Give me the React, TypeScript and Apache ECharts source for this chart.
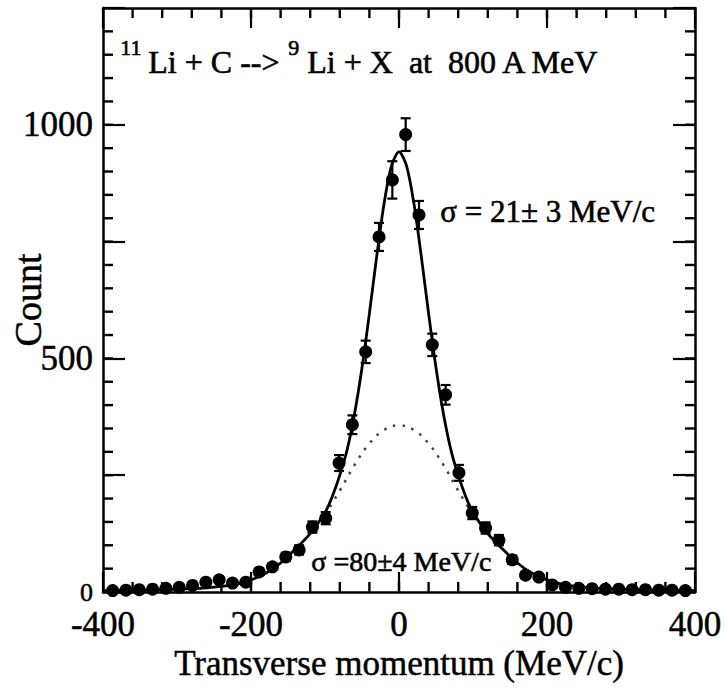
import React, { useEffect, useRef } from 'react';
import * as echarts from 'echarts';

// Bin centres (MeV/c) of the measured points
const binCenters = [
  -387, -369, -351, -333, -315, -297, -279, -261, -243, -225, -207, -189, -171, -153, -135, -117, -99, -81, -63, -45, -27, -9,
  9, 27, 45, 63, 81, 99, 117, 135, 153, 171, 189, 207, 225, 243, 261, 279, 297, 315, 333, 351, 369, 387,
];
// Counts
const counts = [
  3, 4, 5, 6, 8, 10, 14, 21, 26, 19, 21, 43, 54, 75, 90, 139, 158, 276, 358, 514, 760, 882,
  979, 807, 529, 422, 255, 169, 137, 111, 69, 36, 32, 15, 10, 8, 7, 6, 6, 5, 5, 4, 4, 3,
];
// Error-bar half lengths
const errors = [
  2, 2, 2, 3, 3, 3, 4, 5, 5, 5, 5, 7, 7, 9, 10, 12, 13, 17, 20, 24, 30, 40,
  35, 30, 24, 21, 17, 13, 12, 11, 9, 6, 6, 4, 3, 3, 3, 2, 2, 2, 2, 2, 2, 2,
];
// Solid fitted curve (total)
const fitX = [-400, -350, -300, -260, -240, -220, -200, -180, -160, -140, -120, -100, -90, -80, -70, -60, -50, -40, -30, -20, -10, 0,
  10, 20, 30, 40, 50, 60, 70, 80, 90, 100, 120, 140, 160, 180, 200, 220, 240, 260, 300, 350, 400];
const fitY = [3, 4, 6, 9, 12, 17, 26, 40, 62, 92, 125, 170, 205, 250, 305, 382, 480, 596, 720, 833, 913, 942,
  913, 833, 720, 596, 480, 382, 305, 250, 205, 170, 125, 92, 62, 40, 26, 17, 12, 9, 6, 4, 3];
// Dotted wide component (sigma = 80 MeV/c)
const wideX = [-100, -80, -60, -40, -20, 0, 20, 40, 60, 80, 100];
const wideY = [165, 217, 272, 318, 347, 357, 347, 318, 272, 217, 165];

const yLabelValues = [0, 500, 1000];
const X_MIN = -400;
const X_MAX = 400;
const Y_MIN = 0;
const Y_MAX = 1250;
const X_MINOR_STEP = 40;
const Y_MINOR_STEP = 50;

const FONT = '"Liberation Serif", "Times New Roman", serif';
const INK = '#000';

export default function App() {
  const ref = useRef<HTMLDivElement>(null);
  useEffect(() => {
    if (!ref.current) return;
    const chart = echarts.init(ref.current, null, { renderer: 'svg' });

    const frameAxisX = (show: boolean, position: 'top' | 'bottom') => ({
      type: 'value',
      position,
      min: X_MIN,
      max: X_MAX,
      interval: 200,
      axisLine: { show: true, onZero: false, lineStyle: { color: INK, width: 2.5 } },
      axisTick: { show: true, inside: true, length: 20, lineStyle: { color: INK, width: 2.2 } },
      splitLine: { show: false },
      axisLabel: {
        show,
        margin: 15,
        fontFamily: FONT,
        fontSize: 35,
        color: INK,
        textBorderColor: INK,
        textBorderWidth: 0.5,
        showMinLabel: true,
        showMaxLabel: true,
      },
      name: show ? 'Transverse momentum (MeV/c)' : '',
      nameLocation: 'middle',
      nameGap: 54,
      nameMoveOverlap: false,
      nameTextStyle: { fontFamily: FONT, fontSize: 35, color: INK, textBorderColor: INK, textBorderWidth: 0.5 },
    });

    const frameAxisY = (show: boolean, position: 'left' | 'right') => ({
      type: 'value',
      position,
      min: Y_MIN,
      max: Y_MAX,
      interval: 250,
      axisLine: { show: true, onZero: false, lineStyle: { color: INK, width: 2.5 } },
      axisTick: { show: true, inside: true, length: 22, lineStyle: { color: INK, width: 2.2 } },
      splitLine: { show: false },
      axisLabel: {
        show,
        margin: 10,
        fontFamily: FONT,
        fontSize: 35,
        color: INK,
        textBorderColor: INK,
        textBorderWidth: 0.5,
        formatter: (v: number) => {
          if (!yLabelValues.includes(v)) return '';
          return v === 0 ? '{s|0}' : String(v);
        },
        rich: { s: { fontFamily: FONT, fontSize: 26, color: INK } },
      },
      name: show ? 'Count' : '',
      nameLocation: 'middle',
      nameGap: 56,
      nameMoveOverlap: false,
      nameTextStyle: { fontFamily: FONT, fontSize: 38, color: INK, textBorderColor: INK, textBorderWidth: 0.5 },
    });

    // Minor ticks of the frame as small rectangles placed through the chart's scales
    const TL = 10;
    const TW = 2.4;
    const minorTicks: any[] = [];
    for (let v = X_MIN + X_MINOR_STEP; v < X_MAX; v += X_MINOR_STEP) {
      minorTicks.push({ value: [v, Y_MIN], symbolSize: [TW, TL], symbolOffset: [0, -TL / 2] });
      minorTicks.push({ value: [v, Y_MAX], symbolSize: [TW, TL], symbolOffset: [0, TL / 2] });
    }
    for (let v = Y_MIN + Y_MINOR_STEP; v < Y_MAX; v += Y_MINOR_STEP) {
      minorTicks.push({ value: [X_MIN, v], symbolSize: [TL, TW], symbolOffset: [TL / 2, 0] });
      minorTicks.push({ value: [X_MAX, v], symbolSize: [TL, TW], symbolOffset: [-TL / 2, 0] });
    }

    const points = binCenters.map((x, i) => [x, counts[i]]);
    const bars = binCenters.map((x, i) => [x, counts[i] - errors[i], counts[i] + errors[i]]);
    const fit = fitX.map((x, i) => [x, fitY[i]]);
    const wide = wideX.map((x, i) => [x, wideY[i]]);

    const txt = (text: string, left: number, top: number, size: number) => ({
      type: 'text',
      left,
      top,
      style: {
        text,
        fontFamily: FONT,
        fontSize: size,
        fill: INK,
        stroke: INK,
        lineWidth: 0.6,
      },
    });

    chart.setOption({
      animation: false,
      backgroundColor: '#fff',
      grid: { left: 103, right: 33, top: 8, bottom: 108, containLabel: false, outerBoundsMode: 'none' },
      xAxis: [frameAxisX(true, 'bottom'), frameAxisX(false, 'top')],
      yAxis: [frameAxisY(true, 'left'), frameAxisY(false, 'right')],
      series: [
        {
          type: 'scatter',
          name: 'minorTicks',
          data: minorTicks,
          symbol: 'rect',
          clip: false,
          silent: true,
          itemStyle: { color: INK, opacity: 1 },
          z: 1,
        },
        {
          type: 'line',
          data: wide,
          smooth: 0.4,
          symbol: 'none',
          lineStyle: { color: '#444', width: 2.5, type: [2.5, 7] },
          z: 2,
        },
        {
          type: 'line',
          data: fit,
          smooth: 0.3,
          symbol: 'none',
          lineStyle: { color: INK, width: 2.8 },
          z: 3,
        },
        {
          type: 'custom',
          data: bars,
          encode: { x: 0, y: [1, 2] },
          z: 4,
          renderItem: (params: any, api: any) => {
            const x = api.value(0);
            const lo = api.coord([x, api.value(1)]);
            const hi = api.coord([x, api.value(2)]);
            const w = 5;
            const style = { stroke: INK, lineWidth: 2.2 };
            return {
              type: 'group',
              children: [
                { type: 'line', shape: { x1: lo[0], y1: lo[1], x2: hi[0], y2: hi[1] }, style },
                { type: 'line', shape: { x1: lo[0] - w, y1: lo[1], x2: lo[0] + w, y2: lo[1] }, style },
                { type: 'line', shape: { x1: hi[0] - w, y1: hi[1], x2: hi[0] + w, y2: hi[1] }, style },
              ],
            };
          },
        },
        {
          type: 'scatter',
          data: points,
          symbol: 'circle',
          symbolSize: 13,
          itemStyle: { color: INK, opacity: 1 },
          z: 5,
        },
      ],
      graphic: [
        txt('11', 120, 36, 22),
        txt('Li + C -->', 148, 46, 32),
        txt('9', 288, 36, 22),
        txt('Li + X  at  800 A MeV', 307, 46, 32),
        txt('σ = 21± 3 MeV/c', 440, 196, 31),
        txt('σ =80±4 MeV/c', 311, 547, 28),
      ],
    });

    return () => chart.dispose();
  }, []);

  return (
    <div
      ref={ref}
      style={{ position: 'absolute', left: 0, top: 0, width: 728, height: 700, background: '#fff' }}
    />
  );
}
